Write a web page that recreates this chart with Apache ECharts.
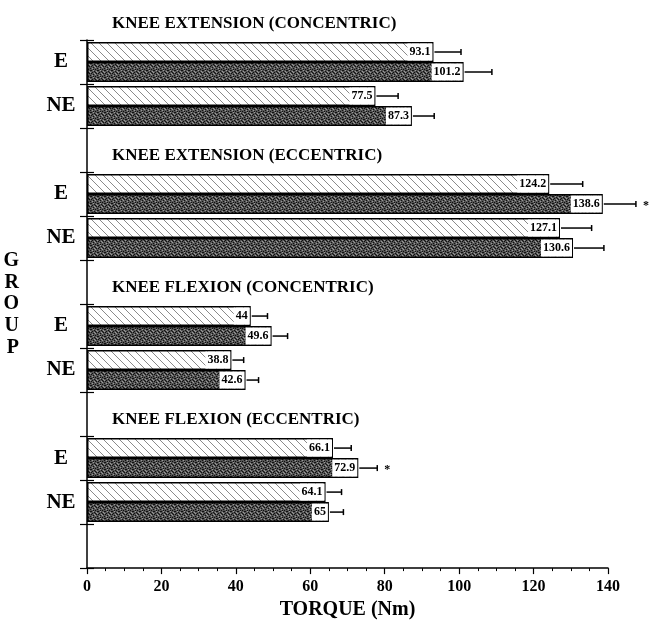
<!DOCTYPE html>
<html><head><meta charset="utf-8">
<script src="https://cdn.jsdelivr.net/npm/echarts@6/dist/echarts.min.js"></script>
<style>html,body{margin:0;padding:0;background:#fff}#c{width:649px;height:625px}</style>
</head><body><div id="c"></div>
<script>
// ---- data ----
const sections = ['KNEE EXTENSION (CONCENTRIC)', 'KNEE EXTENSION (ECCENTRIC)', 'KNEE FLEXION (CONCENTRIC)', 'KNEE FLEXION (ECCENTRIC)'];
const groups = ['E', 'NE'];
// order: section1 E, section1 NE, section2 E, ...
const hatchedValues = [93.1, 77.5, 124.2, 127.1, 44, 38.8, 66.1, 64.1];
const hatchedErrors = [7.4, 6.1, 9.0, 8.5, 4.5, 3.3, 4.9, 4.3];
const darkValues = [101.2, 87.3, 138.6, 130.6, 49.6, 42.6, 72.9, 65];
const darkErrors = [7.6, 6.0, 8.9, 8.3, 4.3, 3.5, 5.1, 3.9];
const darkSignificant = [false, false, true, false, false, false, true, false];
const xMin = 0, xMax = 140, xStep = 20;
const xTitle = 'TORQUE (Nm)';
const yTitle = 'GROUP';

// ---- slots on the category axis: E, NE, spacer per section ----
const slotKeys = [], slotLabels = [];
sections.forEach((s, si) => {
  groups.forEach((g, gi) => { slotKeys.push('s' + si + g); slotLabels.push(g); });
  slotKeys.push('gap' + si); slotLabels.push('');
});
const labelOf = {}; slotKeys.forEach((k, i) => labelOf[k] = slotLabels[i]);
const slotOf = (si, gi) => si * (groups.length + 1) + gi;

const hatchedData = slotKeys.map(() => '-');
const darkData = slotKeys.map(() => '-');
const errData = [];
const titleData = [];
sections.forEach((s, si) => {
  titleData.push([slotOf(si, 0), 0]);
  groups.forEach((g, gi) => {
    const k = si * groups.length + gi, slot = slotOf(si, gi);
    hatchedData[slot] = hatchedValues[k];
    darkData[slot] = darkValues[k];
    errData.push([slot, hatchedValues[k], hatchedErrors[k], 0, 0]);
    errData.push([slot, darkValues[k], darkErrors[k], 1, darkSignificant[k] ? 1 : 0]);
  });
});

// ---- textures ----
function hatchPattern() {
  const c = document.createElement('canvas'); c.width = 8; c.height = 8;
  const g = c.getContext('2d');
  g.fillStyle = '#fff'; g.fillRect(0, 0, 8, 8);
  g.strokeStyle = '#8a8a8a'; g.lineWidth = 1;
  g.beginPath();
  g.moveTo(0, 0); g.lineTo(8, 8);
  g.moveTo(-1, 7); g.lineTo(1, 9);
  g.moveTo(7, -1); g.lineTo(9, 1);
  g.stroke();
  return c;
}
function stipplePattern() {
  const c = document.createElement('canvas'); c.width = 7; c.height = 7;
  const g = c.getContext('2d');
  g.fillStyle = '#555'; g.fillRect(0, 0, 7, 7);
  g.fillStyle = '#111';
  [[0,0],[3,1],[1,2],[5,3],[2,4],[6,5],[0,3],[4,6],[6,0],[2,6],[4,2]].forEach(p => g.fillRect(p[0], p[1], 1, 1));
  g.fillStyle = '#9a9a9a';
  [[2,0],[5,1],[1,5],[4,4],[3,3],[6,2]].forEach(p => g.fillRect(p[0], p[1], 1, 1));
  return c;
}

const FONT = '"Liberation Serif", "Times New Roman", serif';
const BARW = 20;
const labelStyle = {
  show: true, position: 'insideRight', distance: 1,
  formatter: p => String(p.value),
  color: '#000', fontFamily: FONT, fontWeight: 'bold', fontSize: 12,
  backgroundColor: '#fff', padding: [3, 2, 2, 2]
};

const chart = echarts.init(document.getElementById('c'), null, { renderer: 'canvas' });
chart.setOption({
  animation: false,
  backgroundColor: '#fff',
  grid: { left: 87, right: 41, top: 40, bottom: 52, containLabel: false },
  xAxis: [{
    type: 'value', min: xMin, max: xMax, interval: xStep,
    name: xTitle, nameLocation: 'middle', nameGap: 24,
    nameTextStyle: { fontFamily: FONT, fontWeight: 'bold', fontSize: 20, color: '#000' },
    axisLine: { show: true, lineStyle: { color: '#000', width: 1.5 } },
    axisTick: { show: true, inside: false, length: 6, lineStyle: { color: '#000', width: 1.2 } },
    minorTick: { show: true, splitNumber: 4, length: 3, lineStyle: { color: '#000', width: 1 } },
    axisLabel: { fontFamily: FONT, fontWeight: 'bold', fontSize: 16, color: '#000', margin: 11 },
    splitLine: { show: false }
  }],
  yAxis: [{
    type: 'category', data: slotKeys, inverse: true, position: 'left',
    name: yTitle.split('').join('\n'), nameLocation: 'middle', nameGap: 68, nameRotate: 0,
    nameTextStyle: { fontFamily: FONT, fontWeight: 'bold', fontSize: 20, color: '#000', lineHeight: 21.7, padding: [0, 0, 19, 0] },
    axisLine: { show: true, lineStyle: { color: '#000', width: 1.5 } },
    axisTick: { show: true, inside: false, length: 7, lineStyle: { color: '#000', width: 1.2 } },
    axisLabel: { formatter: v => labelOf[v], align: 'center', margin: 26, fontFamily: FONT, fontWeight: 'bold', fontSize: 21, color: '#000' },
    splitLine: { show: false }
  }, {
    type: 'category', data: slotKeys, inverse: true, position: 'left', offset: 0, gridIndex: 0,
    axisLine: { show: false },
    axisTick: { show: true, inside: true, length: 7, lineStyle: { color: '#000', width: 1.2 } },
    axisLabel: { show: false },
    splitLine: { show: false }
  }],
  series: [{
    type: 'bar', name: 'hatched', yAxisIndex: 0, data: hatchedData,
    barWidth: BARW, barGap: '0%',
    itemStyle: { color: { image: hatchPattern(), repeat: 'repeat' }, borderColor: '#000', borderWidth: 1.5 },
    label: labelStyle
  }, {
    type: 'bar', name: 'dark', yAxisIndex: 0, data: darkData,
    barWidth: BARW, barGap: '0%',
    itemStyle: { color: { image: stipplePattern(), repeat: 'repeat' }, borderColor: '#000', borderWidth: 1.5 },
    label: labelStyle
  }, {
    type: 'custom', yAxisIndex: 0, data: errData, encode: { x: 1, y: 0 }, clip: false, z: 5,
    renderItem: (params, api) => {
      const slot = api.value(0), v = api.value(1), e = api.value(2), which = api.value(3), sig = api.value(4);
      const c0 = api.coord([v, slot]), c1 = api.coord([v + e, slot]);
      const y = c0[1] + (which === 0 ? -BARW / 2 : BARW / 2);
      const st = { stroke: '#000', lineWidth: 1.5 };
      const ch = [
        { type: 'line', shape: { x1: c0[0] + 1, y1: y, x2: c1[0], y2: y }, style: st },
        { type: 'line', shape: { x1: c1[0], y1: y - 3, x2: c1[0], y2: y + 3 }, style: st }
      ];
      if (sig) ch.push({ type: 'text', x: c1[0] + 10, y: y + 2, style: { text: '*', fill: '#000', font: 'bold 12px ' + FONT, align: 'center', verticalAlign: 'middle' } });
      return { type: 'group', children: ch };
    }
  }, {
    type: 'custom', yAxisIndex: 0, data: titleData, encode: { x: 1, y: 0 }, clip: false, z: 5,
    renderItem: (params, api) => {
      const c = api.coord([0, api.value(0)]);
      const band = api.size([0, 1])[1];
      return { type: 'text', x: c[0] + 25, y: c[1] - band + 6,
        style: { text: sections[params.dataIndex], fill: '#000', font: 'bold 17px ' + FONT, align: 'left', verticalAlign: 'middle' } };
    }
  }]
});
</script></body></html>
